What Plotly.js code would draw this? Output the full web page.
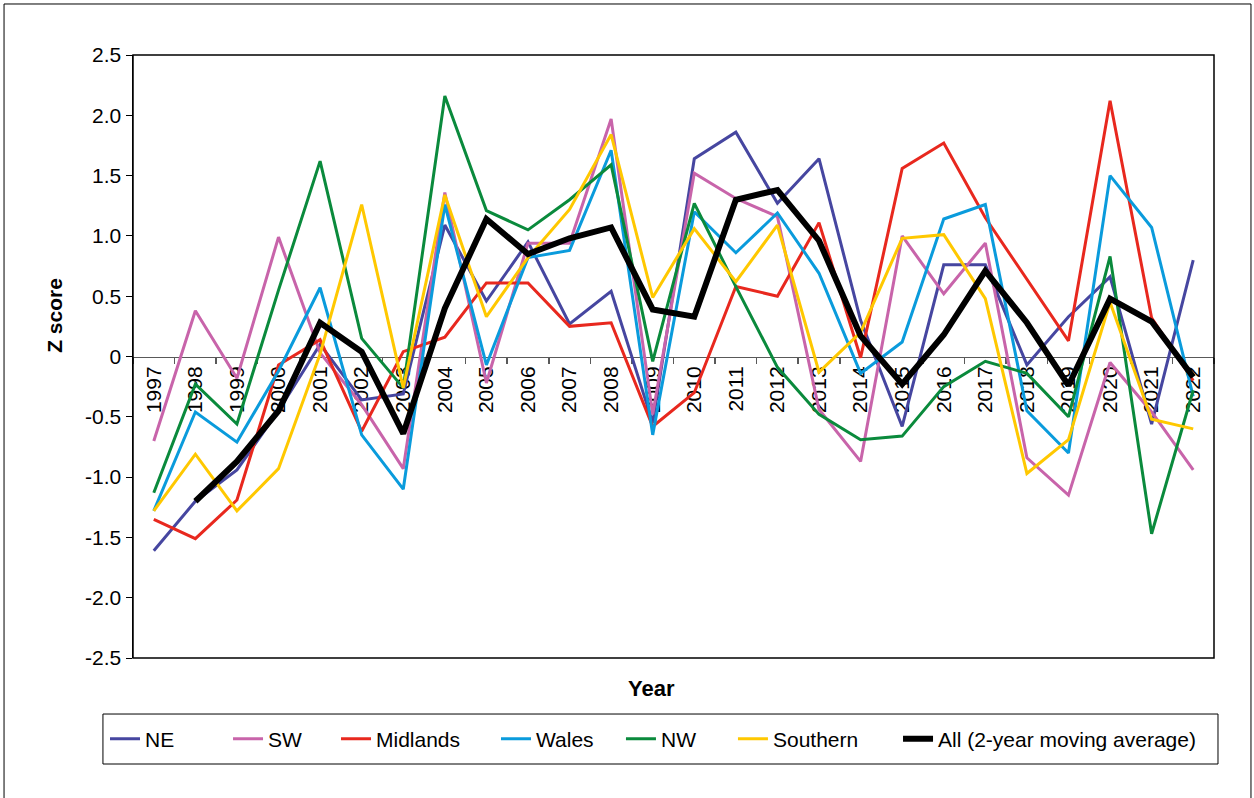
<!DOCTYPE html>
<html>
<head>
<meta charset="utf-8">
<script src="https://cdn.plot.ly/plotly-3.0.1.min.js"></script>
<style>
html,body{margin:0;padding:0;background:#fff;}
#chart{width:1254px;height:798px;}
</style>
</head>
<body>
<div id="chart"></div>
<script>
var years = ['1997','1998','1999','2000','2001','2002','2003','2004','2005','2006','2007','2008','2009','2010','2011','2012','2013','2014','2015','2016','2017','2018','2019','2020','2021','2022'];

var NE       = [-1.61,-1.20,-0.94,-0.45, 0.10,-0.36,-0.31, 1.09, 0.46, 0.95, 0.27, 0.54,-0.55, 1.64, 1.86, 1.27, 1.64, 0.30,-0.58, 0.76, 0.76,-0.07, 0.33, 0.66,-0.56, 0.80];
var SW       = [-0.70, 0.38,-0.18, 0.99, 0.03,-0.40,-0.93, 1.36,-0.22, 0.94, 0.94, 1.97,-0.48, 1.52, 1.31, 1.16,-0.44,-0.87, 1.00, 0.52, 0.94,-0.84,-1.15,-0.05,-0.46,-0.94];
var Midlands = [-1.35,-1.51,-1.19,-0.07, 0.14,-0.62, 0.04, 0.16, 0.61, 0.61, 0.25, 0.28,-0.58,-0.30, 0.58, 0.50, 1.11,-0.01, 1.56, 1.77, 1.15, 0.64, 0.13, 2.12, 0.32,-0.20];
var Wales    = [-1.28,-0.46,-0.71,-0.12, 0.57,-0.65,-1.10, 1.26,-0.07, 0.82, 0.88, 1.71,-0.65, 1.20, 0.86, 1.19, 0.69,-0.14, 0.12, 1.14, 1.26,-0.45,-0.80, 1.50, 1.07,-0.33];
var NW       = [-1.13,-0.23,-0.56, 0.55, 1.62, 0.15,-0.26, 2.16, 1.21, 1.05, 1.30, 1.59,-0.04, 1.27, 0.58,-0.09,-0.48,-0.69,-0.66,-0.25,-0.04,-0.14,-0.50, 0.83,-1.47,-0.28];
var Southern = [-1.28,-0.81,-1.28,-0.93, 0.02, 1.26,-0.26, 1.34, 0.33, 0.82, 1.22, 1.84, 0.49, 1.06, 0.62, 1.09,-0.13, 0.20, 0.98, 1.01, 0.48,-0.97,-0.69, 0.45,-0.52,-0.60];
var allYears = years.slice(1);
var All      = [-1.20,-0.87,-0.45, 0.28, 0.04,-0.64, 0.40, 1.14, 0.85, 0.98, 1.07, 0.39, 0.33, 1.30, 1.38, 0.96, 0.17,-0.23, 0.18, 0.71, 0.28,-0.24, 0.48, 0.29,-0.17];

var yTickVals = [2.5,2,1.5,1,0.5,0,-0.5,-1,-1.5,-2,-2.5];
var yTickText = ['2.5','2.0','1.5','1.0','0.5','0','-0.5','-1.0','-1.5','-2.0','-2.5'];

var seriesNames = ['NE','SW','Midlands','Wales','NW','Southern'];
var seriesData = [NE, SW, Midlands, Wales, NW, Southern];
var colors = ['#4646A0','#C864AA','#E8281E','#0A9BDC','#0A8A3C','#FFC800'];
var legendIds = ['legend','legend2','legend3','legend4','legend5','legend6','legend7'];
var legendX = [-0.0259, 0.0879, 0.1878, 0.3358, 0.4514, 0.5550, 0.7077];

var traces = [];
for (var i = 0; i < seriesNames.length; i++) {
  traces.push({
    x: years, y: seriesData[i], type: 'scatter', mode: 'lines',
    name: seriesNames[i], legend: legendIds[i], line: {color: colors[i], width: 3}
  });
}
traces.push({
  x: allYears, y: All, type: 'scatter', mode: 'lines', legend: legendIds[6],
  name: 'All (2-year moving average)', line: {color: '#000', width: 6}
});

var font = 'Liberation Sans, Arial, sans-serif';

var layout = {
  width: 1254, height: 798,
  margin: {l: 133, r: 40, t: 55, b: 140},
  paper_bgcolor: '#fff', plot_bgcolor: '#fff',
  font: {family: font, size: 21, color: '#000'},
  showlegend: true,
  xaxis: {
    type: 'category', range: [-0.5, 25.5],
    anchor: 'free', position: 0.5,
    showline: true, linecolor: '#595959', linewidth: 1.5,
    ticks: 'outside', ticklen: 6, tickcolor: '#595959', tickwidth: 1.5,
    tickson: 'boundaries', tickangle: -90,
    showgrid: false, zeroline: false, layer: 'below traces',
    tickfont: {family: font, size: 21, color: '#000'}
  },
  yaxis: {
    range: [-2.5, 2.5], tickvals: yTickVals, ticktext: yTickText,
    showline: true, linecolor: '#000', linewidth: 1.5,
    ticks: 'outside', ticklen: 6, tickcolor: '#000',
    showgrid: false, zeroline: false,
    tickfont: {family: font, size: 21, color: '#000'}
  },
  shapes: [
    {type: 'rect', xref: 'paper', yref: 'paper', x0: 0, x1: 1, y0: 0, y1: 1,
     line: {color: '#000', width: 1.5}, layer: 'above'},
    {type: 'rect', xref: 'paper', yref: 'paper', x0: -0.0278, x1: 1.0037, y0: -0.1758, y1: -0.0929,
     line: {color: '#000', width: 1}},
    {type: 'rect', xref: 'paper', yref: 'paper', x0: -0.1193, x1: 1.0342, y0: -0.24, y1: 1.0846,
     line: {color: '#000', width: 1}}
  ],
  annotations: [
    {text: '<b>Z score</b>', xref: 'paper', yref: 'paper', x: -0.0722, y: 0.569,
     xanchor: 'center', yanchor: 'middle',
     textangle: -90, showarrow: false, font: {family: font, size: 21, color: '#000'}},
    {text: '<b>Year</b>', xref: 'paper', yref: 'paper', x: 0.48, y: -0.0498,
     xanchor: 'center', yanchor: 'middle',
     showarrow: false, font: {family: font, size: 22, color: '#000'}}
  ]
};

for (var k = 0; k < legendIds.length; k++) {
  layout[legendIds[k]] = {
    orientation: 'h', x: legendX[k], xanchor: 'left', y: -0.1343, yanchor: 'middle',
    font: {family: font, size: 21, color: '#000'},
    bgcolor: 'rgba(0,0,0,0)', borderwidth: 0
  };
}

Plotly.newPlot('chart', traces, layout, {displayModeBar: false, staticPlot: true});
</script>
</body>
</html>
